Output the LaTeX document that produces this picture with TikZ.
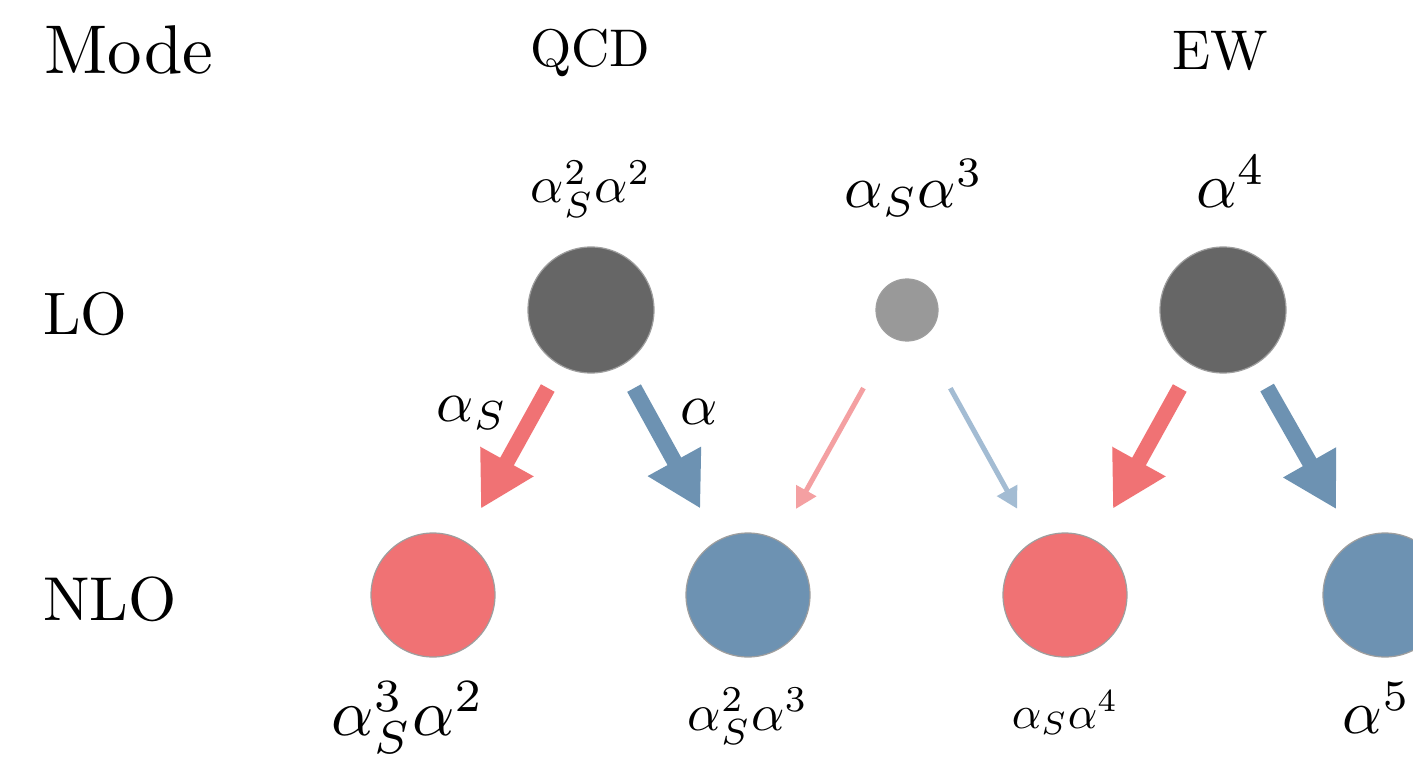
\documentclass[tikz,border=0pt]{standalone}
\usepackage{graphicx}
\usetikzlibrary{arrows.meta}
\definecolor{qcdred}{RGB}{240,114,116}
\definecolor{ewblue}{RGB}{109,146,178}
\definecolor{palered}{RGB}{244,160,162}
\definecolor{paleblue}{RGB}{163,188,211}
\definecolor{darkdot}{RGB}{102,102,102}
\definecolor{lightdot}{RGB}{153,153,153}
\newcommand{\fs}[2]{\scalebox{\fpeval{#1/10}}{\fontsize{10}{12}\selectfont #2}}
\begin{document}
\begin{tikzpicture}[x=0.5pt,y=-0.5pt,
  dot/.style={circle, inner sep=0pt, draw=black!38, line width=0.6pt},
  lodot/.style={dot, minimum size=63pt, fill=darkdot},
  mixdot/.style={dot, minimum size=31pt, fill=lightdot},
  redot/.style={dot, minimum size=62pt, fill=qcdred},
  bluedot/.style={dot, minimum size=62pt, fill=ewblue},
  txt/.style={inner sep=0pt, anchor=base},
  bigarrow/.style={line width=7.8pt, -{Triangle[length=27pt,width=28.5pt]},
    shorten <=12.8pt, shorten >=18pt},
  thinarrow/.style={line width=2.5pt, -{Triangle[length=10.5pt,width=11pt]},
    shorten <=28.9pt, shorten >=18pt}
]
\clip (0,0) rectangle (1413,770);
\fill[white] (0,0) rectangle (1413,770);

% headers
\node[txt, anchor=base west] (mode) at (44,74) {\fs{34.5}{Mode}};
\node[txt] (qcd) at (590,67) {\fs{26.5}{QCD}};
\node[txt] (ew) at (1220,70) {\fs{28}{EW}};
\node[txt, anchor=base west] (lo) at (43,335) {\fs{30}{LO}};
\node[txt, anchor=base west] (nlo) at (43,620) {\fs{31}{NLO}};

% LO dots
\node[lodot] (lq) at (591,310) {};
\node[mixdot] (lm) at (907,310) {};
\node[lodot] (le) at (1223,310) {};

% NLO dots
\node[redot] (n1) at (433,595) {};
\node[bluedot] (n2) at (748,595) {};
\node[redot] (n3) at (1065,595) {};
\node[bluedot] (n4) at (1385,595) {};

% labels top
\node[txt] (t1) at (591,203) {\fs{26}{$\alpha_S^2\alpha^2$}};
\node[txt] (t2) at (914,208) {\fs{30}{$\alpha_S\alpha^3$}};
\node[txt] (t3) at (1231,208) {\fs{32}{$\alpha^4$}};

% labels bottom
\node[txt] (b1) at (408,735) {\fs{33}{$\alpha_S^3\alpha^2$}};
\node[txt] (b2) at (748,730) {\fs{26}{$\alpha_S^2\alpha^3$}};
\node[txt] (b3) at (1065,728) {\fs{23}{$\alpha_S\alpha^4$}};
\node[txt, anchor=base east] (b4) at (1411,733) {\fs{31}{$\alpha^5$}};

% arrows
\draw[bigarrow, qcdred] (lq) -- (n1);
\draw[bigarrow, ewblue] (lq) -- (n2);
\draw[thinarrow, palered] (lm) -- (n2);
\draw[thinarrow, paleblue] (lm) -- (n3);
\draw[bigarrow, qcdred] (le) -- (n3);
\draw[bigarrow, ewblue] (le) -- (n4);

% arrow labels
\node[inner sep=0pt] (las) at (472,413) {\fs{29}{$\alpha_S$}};
\node[inner sep=0pt] (la) at (699,412) {\fs{29}{$\alpha$}};
\end{tikzpicture}
\end{document}
